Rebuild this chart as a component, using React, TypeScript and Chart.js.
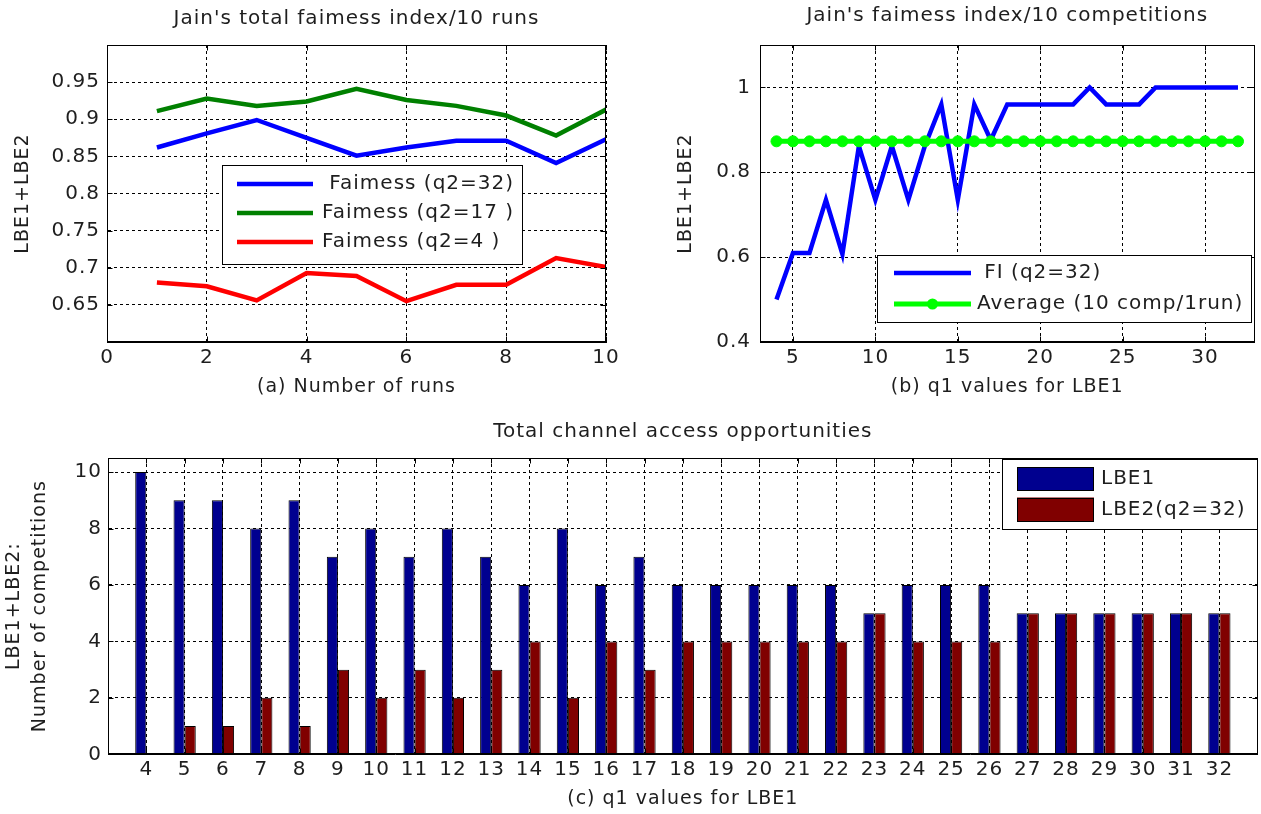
import React, { useEffect, useRef } from 'react';
import { Chart, registerables } from 'chart.js';

Chart.register(...registerables);

const FONT = "'DejaVu Sans', 'Liberation Sans', Arial, sans-serif";
const INK = '#1e1e1e';

// ---------- (a) Jain's total fairness index / 10 runs ----------
const runNumbers = [1, 2, 3, 4, 5, 6, 7, 8, 9, 10];
const fairnessQ2_32 = [0.862, 0.881, 0.899, 0.875, 0.851, 0.862, 0.871, 0.871, 0.841, 0.873];
const fairnessQ2_17 = [0.911, 0.928, 0.918, 0.924, 0.941, 0.926, 0.918, 0.905, 0.878, 0.913];
const fairnessQ2_4 = [0.68, 0.675, 0.656, 0.693, 0.689, 0.655, 0.677, 0.677, 0.713, 0.701];
const runTicks = [0, 2, 4, 6, 8, 10];
const fairnessTicks = [0.65, 0.7, 0.75, 0.8, 0.85, 0.9, 0.95];

// ---------- (b) Jain's fairness index / 10 competitions ----------
const q1Values = [4, 5, 6, 7, 8, 9, 10, 11, 12, 13, 14, 15, 16, 17, 18, 19, 20, 21, 22, 23, 24, 25, 26, 27, 28, 29, 30, 31, 32];
const fiQ2_32 = [0.5, 0.61, 0.61, 0.735, 0.607, 0.862, 0.735, 0.862, 0.735, 0.862, 0.96, 0.735, 0.96, 0.876, 0.96, 0.96, 0.96, 0.96, 0.96, 1.0, 0.96, 0.96, 0.96, 1.0, 1.0, 1.0, 1.0, 1.0, 1.0];
const averageFI = [0.873, 0.873, 0.873, 0.873, 0.873, 0.873, 0.873, 0.873, 0.873, 0.873, 0.873, 0.873, 0.873, 0.873, 0.873, 0.873, 0.873, 0.873, 0.873, 0.873, 0.873, 0.873, 0.873, 0.873, 0.873, 0.873, 0.873, 0.873, 0.873];
const q1TicksB = [5, 10, 15, 20, 25, 30];
const fiTicks = [0.4, 0.6, 0.8, 1];

// ---------- (c) Total channel access opportunities ----------
const q1Categories = [4, 5, 6, 7, 8, 9, 10, 11, 12, 13, 14, 15, 16, 17, 18, 19, 20, 21, 22, 23, 24, 25, 26, 27, 28, 29, 30, 31, 32];
const lbe1Counts = [10, 9, 9, 8, 9, 7, 8, 7, 8, 7, 6, 8, 6, 7, 6, 6, 6, 6, 6, 5, 6, 6, 6, 5, 5, 5, 5, 5, 5];
const lbe2Counts = [0, 1, 1, 2, 1, 3, 2, 3, 2, 3, 4, 2, 4, 3, 4, 4, 4, 4, 4, 5, 4, 4, 4, 5, 5, 5, 5, 5, 5];
const countTicks = [0, 2, 4, 6, 8, 10];

const fmt = (v: number) => String(Math.round(v * 100) / 100);

function axis(
  kind: 'x' | 'y',
  min: number,
  max: number,
  ticks: number[],
  size: number,
  title: string | string[],
  titlePad: any,
  tickPad: number,
  titleLineHeight = 1.2,
) {
  return {
    type: 'linear',
    min,
    max,
    offset: false,
    grid: { color: '#000', lineWidth: 1, drawTicks: false, offset: false },
    border: { display: true, color: '#000', width: 1, dash: [3, 3] },
    afterBuildTicks: (s: any) => {
      s.ticks = ticks.map((v) => ({ value: v }));
    },
    afterFit: (s: any) => {
      if (kind === 'x') s.height = size;
      else s.width = size;
    },
    ticks: {
      color: INK,
      font: { family: FONT, size: 20 },
      padding: tickPad,
      maxRotation: 0,
      autoSkip: false,
      callback: (v: any) => fmt(Number(v)),
    },
    title: {
      display: true,
      text: title,
      color: INK,
      font: { family: FONT, size: 19, lineHeight: titleLineHeight },
      padding: titlePad,
    },
  };
}

const spacingPlugin = {
  id: 'spacing',
  beforeDraw(chart: any) {
    (chart.ctx as any).letterSpacing = '1px';
  },
};

const framePlugin = {
  id: 'frame',
  afterDatasetsDraw(chart: any) {
    const ctx = chart.ctx as CanvasRenderingContext2D;
    const a = chart.chartArea;
    const L = Math.round(a.left) + 0.5;
    const R = Math.round(a.right) - 0.5;
    const T = Math.round(a.top) + 0.5;
    const B = Math.round(a.bottom) - 0.5;
    ctx.save();
    ctx.setLineDash([]);
    ctx.strokeStyle = '#000';
    ctx.lineWidth = 1;
    ctx.strokeRect(L, T, R - L, B - T);
    ctx.beginPath();
    const xs = chart.scales.x;
    xs.ticks.forEach((tk: any) => {
      const p = Math.round(xs.getPixelForValue(tk.value)) + 0.5;
      ctx.moveTo(p, B);
      ctx.lineTo(p, B - 5);
      ctx.moveTo(p, T);
      ctx.lineTo(p, T + 5);
    });
    const ys = chart.scales.y;
    ys.ticks.forEach((tk: any) => {
      const p = Math.round(ys.getPixelForValue(tk.value)) + 0.5;
      ctx.moveTo(L, p);
      ctx.lineTo(L + 5, p);
      ctx.moveTo(R, p);
      ctx.lineTo(R - 5, p);
    });
    ctx.stroke();
    ctx.restore();
  },
};

function boxLegend(cfg: {
  box: [number, number, number, number];
  rows: number[];
  sample: [number, number];
  textX: number;
  fontSize: number;
  patchHeight?: number;
}) {
  return {
    id: 'boxLegend',
    afterDraw(chart: any) {
      const ctx = chart.ctx as CanvasRenderingContext2D;
      const [x1, y1, x2, y2] = cfg.box;
      ctx.save();
      (ctx as any).letterSpacing = '1px';
      ctx.setLineDash([]);
      ctx.fillStyle = '#fff';
      ctx.fillRect(x1, y1, x2 - x1, y2 - y1);
      ctx.strokeStyle = '#000';
      ctx.lineWidth = 1;
      ctx.strokeRect(Math.round(x1) + 0.5, Math.round(y1) + 0.5, Math.round(x2 - x1) - 1, Math.round(y2 - y1) - 1);
      chart.data.datasets.forEach((ds: any, i: number) => {
        const y = cfg.rows[i];
        const [s1, s2] = cfg.sample;
        if (cfg.patchHeight) {
          const h = cfg.patchHeight;
          ctx.fillStyle = ds.backgroundColor;
          ctx.fillRect(s1, y - h / 2, s2 - s1, h);
          ctx.strokeStyle = '#000';
          ctx.lineWidth = 1;
          ctx.strokeRect(s1 + 0.5, Math.round(y - h / 2) + 0.5, s2 - s1 - 1, h - 1);
        } else {
          ctx.strokeStyle = ds.borderColor;
          ctx.lineWidth = ds.borderWidth;
          ctx.beginPath();
          ctx.moveTo(s1, y);
          ctx.lineTo(s2, y);
          ctx.stroke();
          if (ds.pointRadius > 0) {
            ctx.fillStyle = ds.pointBackgroundColor;
            ctx.beginPath();
            ctx.arc((s1 + s2) / 2, y, ds.pointRadius, 0, Math.PI * 2);
            ctx.fill();
          }
        }
        ctx.fillStyle = INK;
        ctx.font = `${cfg.fontSize}px ${FONT}`;
        ctx.textBaseline = 'middle';
        ctx.textAlign = 'left';
        ctx.fillText(ds.label, cfg.textX, y);
      });
      ctx.restore();
    },
  };
}

const titleOpts = (text: string, top: number, bottom: number) => ({
  display: true,
  text,
  color: INK,
  fullSize: false,
  font: { family: FONT, size: 20, weight: 'normal' as const },
  padding: { top, bottom },
});

const toXY = (xs: number[], ys: number[]) => xs.map((x, i) => ({ x, y: ys[i] }));

function configA(): any {
  const line = (label: string, color: string, values: number[]) => ({
    label,
    data: toXY(runNumbers, values),
    borderColor: color,
    backgroundColor: color,
    borderWidth: 4.5,
    pointRadius: 0,
    tension: 0,
  });
  return {
    type: 'line',
    data: {
      datasets: [
        line(' Faimess (q2=32)', '#0000ff', fairnessQ2_32),
        line('Faimess (q2=17 )', '#008000', fairnessQ2_17),
        line('Faimess (q2=4 )', '#ff0000', fairnessQ2_4),
      ],
    },
    options: {
      animation: false,
      responsive: false,
      events: [],
      layout: { padding: { left: 0, right: 24, top: 0, bottom: 0 }, autoPadding: false },
      plugins: {
        legend: { display: false },
        tooltip: { enabled: false },
        title: titleOpts("Jain's total faimess index/10 runs", 7, 14),
      },
      scales: {
        x: axis('x', 0, 10, runTicks, 63, '(a) Number of runs', { top: 0, bottom: 7 }, 4),
        y: axis('y', 0.6, 1.0, fairnessTicks, 107, 'LBE1+LBE2', { top: 12, bottom: 0 }, 7),
      },
    },
    plugins: [
      spacingPlugin,
      framePlugin,
      boxLegend({ box: [222, 165, 523, 265], rows: [184, 213, 242], sample: [237, 313], textX: 322, fontSize: 20 }),
    ],
  };
}

function configB(): any {
  return {
    type: 'line',
    data: {
      datasets: [
        {
          label: ' FI (q2=32)',
          data: toXY(q1Values, fiQ2_32),
          borderColor: '#0000ff',
          backgroundColor: '#0000ff',
          borderWidth: 4.5,
          pointRadius: 0,
          tension: 0,
          order: 2,
        },
        {
          label: 'Average (10 comp/1run)',
          data: toXY(q1Values, averageFI),
          borderColor: '#00ff00',
          backgroundColor: '#00ff00',
          borderWidth: 5,
          pointStyle: 'circle',
          pointRadius: 5.5,
          pointBorderWidth: 1,
          pointBorderColor: '#00ff00',
          pointBackgroundColor: '#00ff00',
          tension: 0,
          order: 1,
        },
      ],
    },
    options: {
      animation: false,
      responsive: false,
      events: [],
      layout: { padding: { left: 0, right: 6.5, top: 0, bottom: 0 }, autoPadding: false },
      plugins: {
        legend: { display: false },
        tooltip: { enabled: false },
        title: titleOpts("Jain's faimess index/10 competitions", 4, 17),
      },
      scales: {
        x: axis('x', 3, 33, q1TicksB, 63, '(b) q1 values for LBE1', { top: 0, bottom: 7 }, 4),
        y: axis('y', 0.4, 1.1, fiTicks, 130, 'LBE1+LBE2', { top: 45, bottom: 0 }, 9),
      },
    },
    plugins: [
      spacingPlugin,
      framePlugin,
      boxLegend({ box: [247, 255, 622, 323], rows: [273, 304], sample: [264, 341], textX: 347, fontSize: 20 }),
    ],
  };
}

function configC(): any {
  const bar = (label: string, color: string, values: number[]) => ({
    label,
    data: toXY(q1Categories, values),
    backgroundColor: color,
    borderColor: '#000',
    borderWidth: 1,
    inflateAmount: 0,
    categoryPercentage: 0.58,
    barPercentage: 1,
  });
  return {
    type: 'bar',
    data: {
      datasets: [bar('LBE1', '#00008f', lbe1Counts), bar('LBE2(q2=32)', '#800000', lbe2Counts)],
    },
    options: {
      animation: false,
      responsive: false,
      events: [],
      layout: { padding: { left: 0, right: 3.3, top: 0, bottom: 0 }, autoPadding: false },
      plugins: {
        legend: { display: false },
        tooltip: { enabled: false },
        title: titleOpts('Total channel access opportunities', 15, 14),
      },
      scales: {
        x: axis('x', 3, 33, q1Categories, 59.7, '(c) q1 values for LBE1', { top: 0, bottom: 4 }, 3),
        y: axis('y', 0, 10.5, countTicks, 108, ['LBE1+LBE2:', 'Number of competitions'], { top: 1, bottom: 0 }, 6, 1.38),
      },
    },
    plugins: [
      spacingPlugin,
      framePlugin,
      boxLegend({ box: [1002, 54, 1258, 125], rows: [74, 104.5], sample: [1017, 1094], textX: 1101, fontSize: 20, patchHeight: 24 }),
    ],
  };
}

export default function App() {
  const refA = useRef<HTMLCanvasElement>(null);
  const refB = useRef<HTMLCanvasElement>(null);
  const refC = useRef<HTMLCanvasElement>(null);

  useEffect(() => {
    const charts = [
      new Chart(refA.current as HTMLCanvasElement, configA()),
      new Chart(refB.current as HTMLCanvasElement, configB()),
      new Chart(refC.current as HTMLCanvasElement, configC()),
    ];
    return () => charts.forEach((c) => c.destroy());
  }, []);

  return (
    <div style={{ position: 'absolute', left: 0, top: 0, width: 1261, height: 814, background: '#fff' }}>
      <canvas ref={refA} width={630} height={405} style={{ position: 'absolute', left: 0, top: 0 }} />
      <canvas ref={refB} width={631} height={405} style={{ position: 'absolute', left: 630, top: 0 }} />
      <canvas ref={refC} width={1261} height={409} style={{ position: 'absolute', left: 0, top: 405 }} />
    </div>
  );
}
